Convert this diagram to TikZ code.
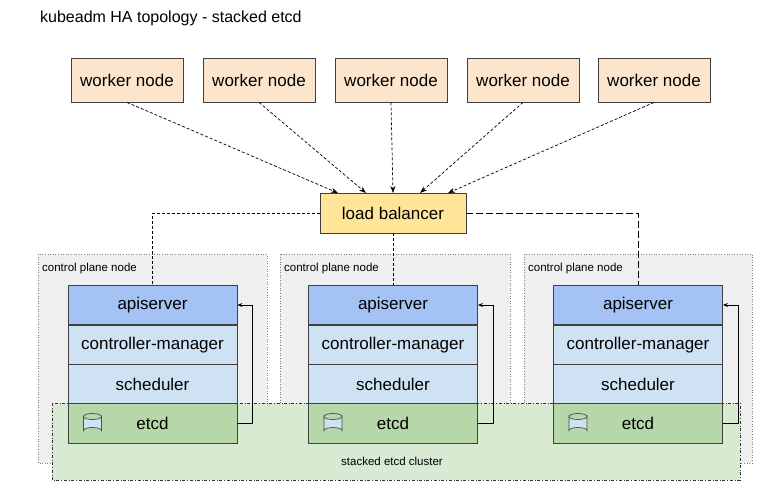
\documentclass[tikz,border=0pt]{standalone}
\usepackage{fontspec}
\setmainfont{Liberation Sans}
\usetikzlibrary{arrows.meta}
\definecolor{wk}{HTML}{FCE5CD}
\definecolor{lbc}{HTML}{FFE599}
\definecolor{api}{HTML}{A4C2F4}
\definecolor{cm}{HTML}{CFE2F3}
\definecolor{et}{HTML}{B6D7A8}
\definecolor{cl}{HTML}{D9EAD3}
\definecolor{cp}{HTML}{EFEFEF}
\begin{document}
\begin{tikzpicture}[x=1pt,y=-1pt,
  box/.style={draw=black!75,line width=0.8pt,minimum height=40pt,inner sep=0pt,font=\fontsize{17}{20}\selectfont},
  worker/.style={box,fill=wk,minimum width=112pt,minimum height=44pt},
  layer/.style={box,minimum width=169pt,minimum height=39.5pt},
  cpbg/.style={fill=cp,draw=black!50,dotted,line width=0.6pt},
  cplabel/.style={font=\fontsize{11.5}{13}\selectfont,anchor=west,inner sep=0pt},
  wa/.style={densely dashed,line width=0.7pt,-{Stealth[length=7pt,width=5pt]}},
  fb/.style={line width=0.7pt,-{Stealth[length=5pt,width=4pt]}}]
\useasboundingbox (0,0) rectangle (784,490);
\node[anchor=west,font=\fontsize{16}{18}\selectfont,inner sep=0pt] (title) at (40,18) {kubeadm HA topology - stacked etcd};
% control plane backgrounds
\foreach \i/\xa/\xb in {1/38/267,2/280/510,3/524/752}{
  \draw[cpbg] (\xa,254) rectangle (\xb,463);
  \node[cplabel] (cpl\i) at (\xa+4,269) {control plane node};
}
% etcd cluster
\draw[fill=cl,draw=black!80,dash dot,line width=0.7pt] (52,403) rectangle (740,480);
\node[font=\fontsize{11.5}{13}\selectfont] (clabel) at (392,461) {stacked etcd cluster};
% workers
\foreach \i/\x in {1/127,2/259,3/391,4/523,5/654}{
  \node[worker] (w\i) at (\x,80) {worker node};
}
\node[box,fill=lbc,minimum width=146pt,minimum height=40pt] (lb) at (393,213) {load balancer};
\foreach \i/\t in {1/338,2/366,3/393,4/420,5/448}{
  \coordinate (t\i) at (\t,193);
  \draw[wa] (w\i.south) -- (t\i);
}
% stacks
\foreach \i/\x in {1/152.5,2/393,3/638}{
  \node[layer,fill=api] (a\i) at (\x,305) {apiserver};
  \node[layer,fill=cm] (c\i) at (\x,345) {controller-manager};
  \node[layer,fill=cm] (s\i) at (\x,384) {scheduler};
  \node[layer,fill=et] (e\i) at (\x,423.5) {etcd};
  \coordinate (cy\i) at ([xshift=-69pt,yshift=7pt]e\i.center);
  \draw[fill=cm,draw=black!70,line width=0.7pt] (cy\i)
     -- ++(0,14) arc[start angle=180,end angle=360,x radius=9,y radius=3] -- ++(0,-14)
     arc[start angle=0,end angle=180,x radius=9,y radius=3] -- cycle;
  \draw[draw=black!70,line width=0.7pt] (cy\i) arc[start angle=180,end angle=360,x radius=9,y radius=3];
  \draw[fb] (e\i.east) -- ++(15,0) |- (a\i.east);
}
% lb connections
\draw[densely dashed,line width=0.7pt] (lb.west) -| (a1.north);
\draw[densely dashed,line width=0.7pt] (lb.south) -- (a2.north);
\draw[dash pattern=on 7pt off 3pt,line width=0.7pt] (lb.east) -| (a3.north);
\end{tikzpicture}
\end{document}
